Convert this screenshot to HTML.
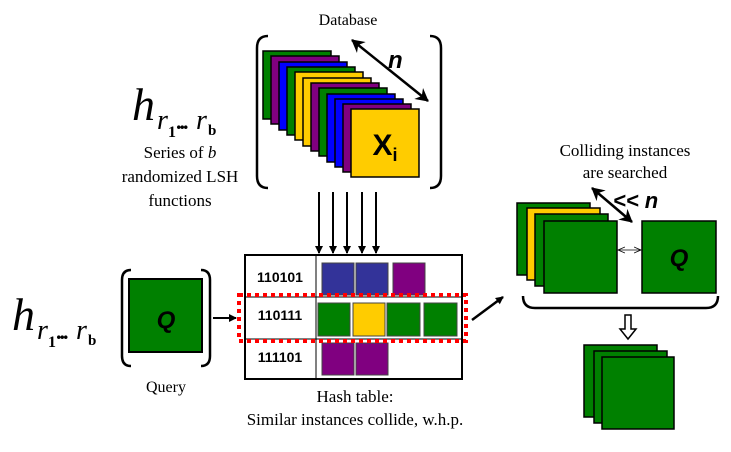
<!DOCTYPE html>
<html><head><style>body{margin:0;background:#fff}svg{display:block}</style></head><body>
<svg width="731" height="452" viewBox="0 0 731 452" xmlns="http://www.w3.org/2000/svg">
<defs>
<marker id="ah" markerWidth="8" markerHeight="8" refX="7" refY="4" orient="auto" markerUnits="userSpaceOnUse"><path d="M0,0 L8,4 L0,8 z" fill="#000"/></marker>
<marker id="ahs" markerWidth="14" markerHeight="14" refX="12" refY="7" orient="auto-start-reverse" markerUnits="userSpaceOnUse"><path d="M0,0 L13,7 L0,14 L4,7 z" fill="#000"/></marker>
<marker id="aht" markerWidth="8" markerHeight="8" refX="7" refY="4" orient="auto-start-reverse" markerUnits="userSpaceOnUse"><path d="M0,1 L7,4 L0,7" fill="none" stroke="#000" stroke-width="0.8"/></marker>
</defs>
<g font-family="Liberation Serif, serif" fill="#000">
<text x="348" y="25" font-size="16" text-anchor="middle">Database</text>
<text x="180" y="158" font-size="17" text-anchor="middle">Series of <tspan font-style="italic">b</tspan></text>
<text x="180" y="182" font-size="17" text-anchor="middle">randomized LSH</text>
<text x="180" y="206" font-size="17" text-anchor="middle">functions</text>
<text x="166" y="392" font-size="16" text-anchor="middle">Query</text>
<text x="355" y="402" font-size="17" text-anchor="middle">Hash table:</text>
<text x="355" y="425" font-size="17" text-anchor="middle">Similar instances collide, w.h.p.</text>
<text x="625" y="156" font-size="17" text-anchor="middle">Colliding instances</text>
<text x="625" y="178" font-size="17" text-anchor="middle">are searched</text>
<text x="132" y="120" font-size="46" font-style="italic">h</text>
<text x="157" y="129" font-size="28" font-style="italic">r</text>
<text x="168" y="137" font-size="16" font-weight="bold">1</text>
<text x="176" y="129" font-size="22" font-weight="bold" letter-spacing="-2">...</text>
<text x="196" y="129" font-size="28" font-style="italic">r</text>
<text x="208" y="135" font-size="15" font-weight="bold">b</text>
<text x="12" y="330" font-size="46" font-style="italic">h</text>
<text x="37" y="339" font-size="28" font-style="italic">r</text>
<text x="48" y="347" font-size="16" font-weight="bold">1</text>
<text x="56" y="339" font-size="22" font-weight="bold" letter-spacing="-2">...</text>
<text x="76" y="339" font-size="28" font-style="italic">r</text>
<text x="88" y="345" font-size="15" font-weight="bold">b</text>
</g>
<g fill="none" stroke="#000" stroke-width="2.5">
<path d="M268,36 Q257,36 257,48 L257,176 Q257,188 268,188"/>
<path d="M430,36 Q441,36 441,48 L441,176 Q441,188 430,188"/>
<path d="M131,270 Q122,270 122,280 L122,356 Q122,366 131,366"/>
<path d="M201,270 Q210,270 210,280 L210,356 Q210,366 201,366"/>
<path d="M523,296 Q523,308 535,308 L706,308 Q718,308 718,296"/>
</g>
<g stroke="#000" stroke-width="1.5">
<rect x="263" y="51" width="68" height="68" fill="#008000"/>
<rect x="271" y="56" width="68" height="68" fill="#800080"/>
<rect x="279" y="62" width="68" height="68" fill="#0000ff"/>
<rect x="287" y="67" width="68" height="68" fill="#008000"/>
<rect x="295" y="72" width="68" height="68" fill="#ffcc00"/>
<rect x="303" y="78" width="68" height="68" fill="#ffcc00"/>
<rect x="311" y="83" width="68" height="68" fill="#800080"/>
<rect x="319" y="88" width="68" height="68" fill="#008000"/>
<rect x="327" y="94" width="68" height="68" fill="#0000ff"/>
<rect x="335" y="99" width="68" height="68" fill="#0000ff"/>
<rect x="343" y="104" width="68" height="68" fill="#800080"/>
<rect x="351" y="109" width="68" height="68" fill="#ffcc00"/>
</g>
<text x="385" y="155" font-family="Liberation Sans, sans-serif" font-size="30" font-weight="bold" text-anchor="middle">X<tspan font-size="18" dy="6">i</tspan></text>
<line x1="352" y1="40" x2="428" y2="101" stroke="#000" stroke-width="2.5" marker-start="url(#ahs)" marker-end="url(#ahs)"/>
<text x="388" y="68" font-family="Liberation Sans, sans-serif" font-size="24" font-weight="bold" font-style="italic">n</text>
<g stroke="#000" stroke-width="2" marker-end="url(#ah)">
<line x1="319" y1="192" x2="319" y2="253"/><line x1="333" y1="192" x2="333" y2="253"/><line x1="347" y1="192" x2="347" y2="253"/><line x1="362" y1="192" x2="362" y2="253"/><line x1="376" y1="192" x2="376" y2="253"/>
</g>
<rect x="245" y="255" width="217" height="124" fill="none" stroke="#000" stroke-width="2"/>
<line x1="316" y1="255" x2="316" y2="379" stroke="#000" stroke-width="1"/>
<line x1="245" y1="297" x2="462" y2="297" stroke="#000" stroke-width="1"/>
<line x1="245" y1="339" x2="462" y2="339" stroke="#000" stroke-width="1"/>
<g stroke="#444" stroke-width="1">
<rect x="322" y="263" width="32" height="32" fill="#333399"/>
<rect x="356" y="263" width="32" height="32" fill="#333399"/>
<rect x="393" y="263" width="32" height="32" fill="#800080"/>
<rect x="318" y="303" width="32" height="33" fill="#008000"/>
<rect x="353" y="303" width="32" height="33" fill="#ffcc00"/>
<rect x="387" y="303" width="33" height="33" fill="#008000"/>
<rect x="424" y="303" width="33" height="33" fill="#008000"/>
<rect x="322" y="343" width="32" height="32" fill="#800080"/>
<rect x="356" y="343" width="32" height="32" fill="#800080"/>
</g>
<g font-family="Liberation Sans, sans-serif" font-size="14" font-weight="bold" text-anchor="middle">
<text x="280" y="282">110101</text><text x="280" y="320">110111</text><text x="280" y="362">111101</text>
</g>
<rect x="239" y="295" width="227" height="46" fill="none" stroke="#ff0000" stroke-width="4" stroke-dasharray="4,4"/>
<rect x="129" y="279" width="73" height="73" fill="#008000" stroke="#000" stroke-width="2"/>
<text x="166" y="328" font-family="Liberation Sans, sans-serif" font-size="24" font-weight="bold" font-style="italic" text-anchor="middle">Q</text>
<line x1="213" y1="318" x2="236" y2="318" stroke="#000" stroke-width="2" marker-end="url(#ah)"/>
<line x1="472" y1="320" x2="503" y2="297" stroke="#000" stroke-width="2.5" marker-end="url(#ah)"/>
<g stroke="#000" stroke-width="1.5">
<rect x="517" y="203" width="73" height="72" fill="#008000"/>
<rect x="527" y="208" width="73" height="72" fill="#ffcc00"/>
<rect x="535" y="214" width="73" height="72" fill="#008000"/>
<rect x="544" y="221" width="73" height="72" fill="#008000"/>
<rect x="642" y="221" width="74" height="72" fill="#008000"/>
<rect x="584" y="345" width="73" height="72" fill="#008000"/>
<rect x="594" y="351" width="73" height="72" fill="#008000"/>
<rect x="602" y="357" width="72" height="72" fill="#008000"/>
</g>
<text x="679" y="266" font-family="Liberation Sans, sans-serif" font-size="24" font-weight="bold" font-style="italic" text-anchor="middle">Q</text>
<line x1="618" y1="250" x2="641" y2="250" stroke="#000" stroke-width="0.8" marker-start="url(#aht)" marker-end="url(#aht)"/>
<line x1="592" y1="188" x2="632" y2="222" stroke="#000" stroke-width="2.5" marker-start="url(#ahs)" marker-end="url(#ahs)"/>
<text x="613" y="208" font-family="Liberation Sans, sans-serif" font-size="22" font-weight="bold" font-style="italic">&lt;&lt; n</text>
<path d="M625,315 L631,315 L631,329 L636,329 L628,339 L620,329 L625,329 z" fill="#fff" stroke="#000" stroke-width="1.5"/>
</svg>
</body></html>
